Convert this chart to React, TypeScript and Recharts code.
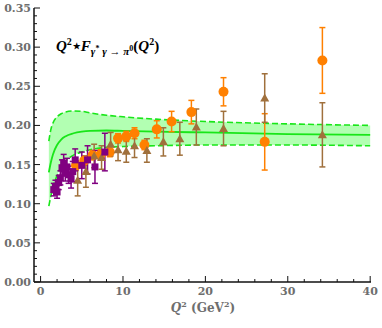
import React from 'react';
import { ComposedChart, Area, Line, Scatter, XAxis, YAxis, ErrorBar } from 'recharts';

// Theory band
const bandQ = [1, 1.25, 1.5, 2, 2.5, 3, 4, 5, 6, 8, 10, 14, 20, 30, 40];
const bandLow = [0.097, 0.11, 0.121, 0.136, 0.147, 0.154, 0.162, 0.166, 0.169, 0.172, 0.173, 0.174, 0.175, 0.175, 0.174];
const bandMid = [0.14, 0.153, 0.163, 0.175, 0.182, 0.186, 0.19, 0.192, 0.193, 0.1935, 0.193, 0.192, 0.191, 0.189, 0.188];
const bandHigh = [0.18, 0.195, 0.203, 0.211, 0.215, 0.217, 0.2185, 0.218, 0.216, 0.213, 0.211, 0.208, 0.205, 0.202, 0.2];

// Orange circles
const babarQ = [4.3, 5.3, 6.3, 7.3, 8.4, 9.4, 10.4, 11.4, 12.6, 14.1, 15.9, 18.3, 22.2, 27.2, 34.2];
const babarF = [0.149, 0.155, 0.162, 0.163, 0.166, 0.1835, 0.186, 0.19, 0.175, 0.195, 0.205, 0.217, 0.243, 0.179, 0.283];
const babarErr = [0.006, 0.006, 0.006, 0.006, 0.006, 0.006, 0.0065, 0.007, 0.006, 0.011, 0.013, 0.015, 0.018, 0.036, 0.042];

// Brown triangles
const belleQ = [4.5, 5.5, 6.5, 7.4, 8.5, 9.4, 10.4, 11.4, 12.9, 14.9, 16.9, 18.9, 22.2, 27.2, 34.2];
const belleF = [0.13, 0.141, 0.161, 0.159, 0.176, 0.169, 0.167, 0.174, 0.168, 0.179, 0.183, 0.198, 0.196, 0.235, 0.188];
const belleErr = [0.02, 0.02, 0.015, 0.015, 0.015, 0.014, 0.014, 0.015, 0.015, 0.018, 0.021, 0.023, 0.022, 0.031, 0.041];

// Purple squares
const cleoQ = [1.6, 1.8, 2.0, 2.2, 2.4, 2.6, 2.8, 3.0, 3.2, 3.4, 3.7, 3.9, 4.2, 5.0, 5.7, 6.6, 7.8];
const cleoF = [0.118, 0.122, 0.115, 0.127, 0.133, 0.146, 0.152, 0.139, 0.147, 0.137, 0.132, 0.141, 0.156, 0.149, 0.156, 0.147, 0.166];
const cleoErr = [0.008, 0.008, 0.008, 0.009, 0.009, 0.01, 0.011, 0.01, 0.011, 0.011, 0.012, 0.013, 0.014, 0.017, 0.018, 0.021, 0.024];

// Ticks
const xTicks = [0, 2, 4, 6, 8, 10, 12, 14, 16, 18, 20, 22, 24, 26, 28, 30, 32, 34, 36, 38, 40];
const xMajor = [0, 10, 20, 30, 40];
const yTicks = [0, 0.01, 0.02, 0.03, 0.04, 0.05, 0.06, 0.07, 0.08, 0.09, 0.1, 0.11, 0.12, 0.13, 0.14, 0.15, 0.16, 0.17, 0.18, 0.19, 0.2, 0.21, 0.22, 0.23, 0.24, 0.25, 0.26, 0.27, 0.28, 0.29, 0.3, 0.31, 0.32, 0.33, 0.34, 0.35];
const yMajor = [0, 0.05, 0.1, 0.15, 0.2, 0.25, 0.3, 0.35];

const bandData = bandQ.map((q, i) => ({ q, lo: bandLow[i], mid: bandMid[i], hi: bandHigh[i], rng: [bandLow[i], bandHigh[i]] }));
const babarData = babarQ.map((q, i) => ({ q, f: babarF[i], e: babarErr[i] }));
const belleData = belleQ.map((q, i) => ({ q, f: belleF[i], e: belleErr[i] }));
const cleoData = cleoQ.map((q, i) => ({ q, f: cleoF[i], e: cleoErr[i] }));

const isMajorY = (v: number) => yMajor.some((m) => Math.abs(m - v) < 1e-9);
const LABEL_FONT = 'DejaVu Serif';
const LABEL_COLOR = '#6e6e6e';
const FRAME = '#111';

const BottomTick = (props: any) => {
  const { x, y, payload } = props;
  const v = payload.value;
  const major = xMajor.includes(v);
  return (
    <g>
      <line x1={x} x2={x} y1={y} y2={y - (major ? 6 : 3)} stroke={FRAME} strokeWidth={1} />
      {major && (
        <text x={x} y={y + 13} textAnchor="middle" fontFamily={LABEL_FONT} fontWeight="bold" fontSize={11} fill={LABEL_COLOR}>
          {v}
        </text>
      )}
    </g>
  );
};
const TopTick = (props: any) => {
  const { x, y, payload } = props;
  const major = xMajor.includes(payload.value);
  return <line x1={x} x2={x} y1={y} y2={y + (major ? 6 : 3)} stroke={FRAME} strokeWidth={1} />;
};
const LeftTick = (props: any) => {
  const { x, y, payload } = props;
  const v = payload.value;
  const major = isMajorY(v);
  return (
    <g>
      <line x1={x} x2={x + (major ? 6 : 3)} y1={y} y2={y} stroke={FRAME} strokeWidth={1} />
      {major && (
        <text x={x - 3} y={y + 4} textAnchor="end" fontFamily={LABEL_FONT} fontWeight="bold" fontSize={11} fill={LABEL_COLOR}>
          {v.toFixed(2)}
        </text>
      )}
    </g>
  );
};
const RightTick = (props: any) => {
  const { x, y, payload } = props;
  const major = isMajorY(payload.value);
  return <line x1={x} x2={x - (major ? 6 : 3)} y1={y} y2={y} stroke={FRAME} strokeWidth={1} />;
};

const Circle = (p: any) => <circle cx={p.cx} cy={p.cy} r={5} fill="#ff8000" />;
const Tri = (p: any) => (
  <polygon points={`${p.cx},${p.cy - 4.5} ${p.cx + 4.5},${p.cy + 3.5} ${p.cx - 4.5},${p.cy + 3.5}`} fill="#a0703c" />
);
const Sq = (p: any) => <rect x={p.cx - 3.5} y={p.cy - 3.5} width={7} height={7} fill="#800080" />;

const GREEN = '#19e619';

export default function App() {
  return (
    <div style={{ position: 'absolute', left: 0, top: 0, width: 382, height: 328, background: '#fff' }}>
      <ComposedChart width={382} height={328} data={bandData} margin={{ top: 8, right: 11, bottom: 0, left: 0 }}>
        <XAxis
          xAxisId={0}
          dataKey="q"
          type="number"
          domain={[-0.8, 40.1]}
          ticks={xTicks}
          interval={0}
          height={46}
          tickSize={0}
          tickMargin={0}
          tick={<BottomTick />}
          tickLine={false}
          axisLine={{ stroke: FRAME, strokeWidth: 1.5 }}
        />
        <XAxis
          xAxisId="top"
          orientation="top"
          dataKey="q"
          type="number"
          domain={[-0.8, 40.1]}
          ticks={xTicks}
          interval={0}
          height={0}
          tickSize={0}
          tickMargin={0}
          tick={<TopTick />}
          tickLine={false}
          axisLine={{ stroke: FRAME, strokeWidth: 1.5 }}
        />
        <YAxis
          yAxisId={0}
          type="number"
          domain={[0, 0.35]}
          ticks={yTicks}
          interval={0}
          width={34}
          tickSize={0}
          tickMargin={0}
          tick={<LeftTick />}
          tickLine={false}
          axisLine={{ stroke: FRAME, strokeWidth: 1.5 }}
        />
        <YAxis
          yAxisId="right"
          orientation="right"
          type="number"
          domain={[0, 0.35]}
          ticks={yTicks}
          interval={0}
          width={0}
          tickSize={0}
          tickMargin={0}
          tick={<RightTick />}
          tickLine={false}
          axisLine={{ stroke: FRAME, strokeWidth: 1.5 }}
        />
        <Area dataKey="rng" type="monotone" stroke="none" fill="#00ff00" fillOpacity={0.3} isAnimationActive={false} />
        <Line dataKey="lo" type="monotone" stroke={GREEN} strokeWidth={1.6} strokeDasharray="6 3" dot={false} isAnimationActive={false} />
        <Line dataKey="hi" type="monotone" stroke={GREEN} strokeWidth={1.6} strokeDasharray="6 3" dot={false} isAnimationActive={false} />
        <Line dataKey="mid" type="monotone" stroke={GREEN} strokeWidth={1.8} dot={false} isAnimationActive={false} />
        <Scatter data={babarData} dataKey="f" shape={<Circle />} isAnimationActive={false}>
          <ErrorBar dataKey="e" direction="y" width={3} stroke="#ff8000" strokeWidth={1.5} />
        </Scatter>
        <Scatter data={belleData} dataKey="f" shape={<Tri />} isAnimationActive={false}>
          <ErrorBar dataKey="e" direction="y" width={3} stroke="#a0703c" strokeWidth={1.5} />
        </Scatter>
        <Scatter data={cleoData} dataKey="f" shape={<Sq />} isAnimationActive={false}>
          <ErrorBar dataKey="e" direction="y" width={3} stroke="#800080" strokeWidth={1.5} />
        </Scatter>
      </ComposedChart>
      <svg width={382} height={328} style={{ position: 'absolute', left: 0, top: 0, pointerEvents: 'none' }}>
        <text x={56} y={51} fontFamily="Liberation Serif" fontWeight="bold" fontStyle="italic" fontSize={15} fill="#000">
          <tspan>Q</tspan>
          <tspan dy={-6} fontSize={10} fontStyle="normal">2</tspan>
          <tspan dy={6} fontStyle="normal">⋆</tspan>
          <tspan>F</tspan>
          <tspan dy={4} fontSize={11}>γ</tspan>
          <tspan dy={-4} fontSize={8} fontStyle="normal">*</tspan>
          <tspan dy={4} fontSize={11}> γ → π</tspan>
          <tspan dy={-4} fontSize={8} fontStyle="normal">0</tspan>
          <tspan fontSize={15} fontStyle="normal">(</tspan>
          <tspan>Q</tspan>
          <tspan dy={-6} fontSize={10} fontStyle="normal">2</tspan>
          <tspan dy={6} fontStyle="normal">)</tspan>
        </text>
        <text x={203} y={312} textAnchor="middle" fontFamily={LABEL_FONT} fontWeight="bold" fontSize={12} fill={LABEL_COLOR}>
          <tspan fontStyle="italic">Q</tspan>
          <tspan dy={-5} fontSize={8}>2</tspan>
          <tspan dy={5}>  (GeV</tspan>
          <tspan dy={-5} fontSize={8}>2</tspan>
          <tspan dy={5}>)</tspan>
        </text>
      </svg>
    </div>
  );
}
